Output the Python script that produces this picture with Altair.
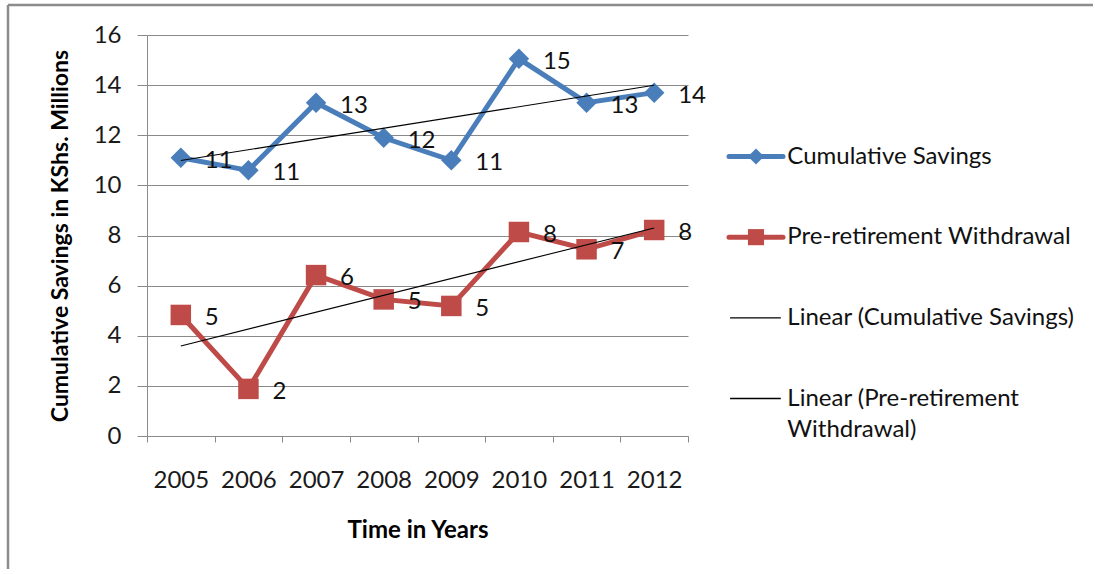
import altair as alt
import pandas as pd

# ---- data -------------------------------------------------------------
years = [2005, 2006, 2007, 2008, 2009, 2010, 2011, 2012]
cumulative_savings = [11.1, 10.6, 13.3, 11.9, 11.0, 15.05, 13.3, 13.7]
pre_retirement_withdrawal = [4.83, 1.88, 6.42, 5.45, 5.19, 8.14, 7.45, 8.22]

series_names = ["Cumulative Savings", "Pre-retirement Withdrawal"]
series_colors = ["#4A7EBB", "#BE4B48"]
series_shapes = ["diamond", "square"]

y_ticks = [0, 2, 4, 6, 8, 10, 12, 14, 16]

legend_lines = [
    "Cumulative Savings",
    "Pre-retirement Withdrawal",
    "Linear (Cumulative Savings)",
    "Linear (Pre-retirement",
    "Withdrawal)",
]

# ---- styling ------------------------------------------------------------
FONT = "Lato"
FS = 24
GRID = "#8a8a8a"
PLOT_W, PLOT_H = 541, 401
CAT_PX = PLOT_W / len(years)

df = pd.DataFrame(
    {
        "year": years * 2,
        "value": cumulative_savings + pre_retirement_withdrawal,
        "series": [series_names[0]] * len(years) + [series_names[1]] * len(years),
    }
)

# ticks sit on the category boundaries; each label is shifted half a
# category to the right so it lands in the middle of its year
x_bounds = [y - 0.5 for y in years] + [years[-1] + 0.5]

x_enc = alt.X(
    "year:Q",
    scale=alt.Scale(domain=[x_bounds[0], x_bounds[-1]], nice=False, zero=False),
    axis=alt.Axis(
        values=x_bounds,
        labelExpr=f"datum.value < {years[-1]} ? toString(datum.value + 0.5) : ''",
        labelOffset=CAT_PX / 2,
        labelOverlap=False,
        labelFlush=False,
        tickSize=6,
        tickColor=GRID,
        domainColor=GRID,
        grid=False,
        labelFont=FONT,
        labelFontSize=FS,
        labelColor="#1a1a1a",
        labelPadding=26,
        title="Time in Years",
        titleFont=FONT,
        titleFontSize=FS,
        titleFontWeight="bold",
        titleColor="#000000",
        titlePadding=26,
    ),
)
y_enc = alt.Y(
    "value:Q",
    scale=alt.Scale(domain=[0, 16], nice=False),
    axis=alt.Axis(
        values=y_ticks,
        tickSize=10,
        tickColor=GRID,
        domainColor=GRID,
        grid=True,
        gridColor=GRID,
        labelFont=FONT,
        labelFontSize=FS,
        labelColor="#1a1a1a",
        labelPadding=16,
        title="Cumulative Savings in KShs. Millions",
        titleFont=FONT,
        titleFontSize=23,
        titleFontWeight="bold",
        titleColor="#000000",
        titlePadding=21,
    ),
)

color_scale = alt.Scale(domain=series_names, range=series_colors)
shape_scale = alt.Scale(domain=series_names, range=series_shapes)

base = alt.Chart(df).encode(x=x_enc, y=y_enc)

lines = base.mark_line(strokeWidth=5).encode(
    color=alt.Color("series:N", scale=color_scale, legend=None)
)
markers = base.mark_point(filled=True, size=420, opacity=1).encode(
    color=alt.Color("series:N", scale=color_scale, legend=None),
    shape=alt.Shape("series:N", scale=shape_scale, legend=None),
)
trend = (
    base.transform_regression("year", "value", groupby=["series"])
    .mark_line(color="#000000", strokeWidth=1.1)
    .encode(detail="series:N")
)
value_labels = base.mark_text(
    align="left", baseline="middle", dx=24, dy=3, font=FONT, fontSize=FS, color="#111111"
).encode(text=alt.Text("value:Q", format=".0f"))

# outer frame (top and left edges)
frame_src = alt.Chart(pd.DataFrame({"f": [0]}))
frame_left = frame_src.mark_rule(color="#8c8c8c", strokeWidth=2.5).encode(
    x=alt.value(-139), y=alt.value(-30), y2=alt.value(534)
)
frame_top = frame_src.mark_rule(color="#8c8c8c", strokeWidth=2.5).encode(
    x=alt.value(-139), x2=alt.value(946), y=alt.value(-30)
)

main = alt.layer(frame_left, frame_top, lines, markers, trend, value_labels).properties(
    width=PLOT_W, height=PLOT_H
)

# ---- legend panel -------------------------------------------------------
ROW_PX = 80.67
FIRST_PX = 121.5
UNIT_PX = 54
LEG_W = 330
row_domain = [-FIRST_PX / ROW_PX, (PLOT_H - FIRST_PX) / ROW_PX]
leg_x = alt.Scale(domain=[0, LEG_W / UNIT_PX], nice=False, zero=False)
leg_y = alt.Scale(domain=row_domain, nice=False, zero=False, reverse=True)

swatch_df = pd.DataFrame(
    {
        "row": [0, 1, 2, 3],
        "x0": [0, 0, 0.02, 0.02],
        "x1": [1, 1, 0.96, 0.96],
        "kind": series_names + ["trend", "trend"],
    }
)
text_df = pd.DataFrame(
    {"row": [0, 1, 2, 3, 3 + 31 / ROW_PX], "label": legend_lines, "tx": [1.08] * 5}
)

leg_series = swatch_df[swatch_df["kind"] != "trend"]
leg_trend = swatch_df[swatch_df["kind"] == "trend"]

sw_lines = alt.Chart(leg_series).mark_rule(strokeWidth=5, strokeCap="round").encode(
    x=alt.X("x0:Q", scale=leg_x, axis=None),
    x2="x1:Q",
    y=alt.Y("row:Q", scale=leg_y, axis=None),
    color=alt.Color("kind:N", scale=color_scale, legend=None),
)
sw_marks = alt.Chart(leg_series).transform_calculate(mid="(datum.x0 + datum.x1) / 2").mark_point(
    filled=True, size=260, opacity=1
).encode(
    x=alt.X("mid:Q", scale=leg_x, axis=None),
    y=alt.Y("row:Q", scale=leg_y, axis=None),
    color=alt.Color("kind:N", scale=color_scale, legend=None),
    shape=alt.Shape("kind:N", scale=shape_scale, legend=None),
)
sw_trend = alt.Chart(leg_trend).mark_rule(strokeWidth=1.3, color="#000000").encode(
    x=alt.X("x0:Q", scale=leg_x, axis=None),
    x2="x1:Q",
    y=alt.Y("row:Q", scale=leg_y, axis=None),
)
leg_text = alt.Chart(text_df).mark_text(
    align="left", baseline="middle", font=FONT, fontSize=FS, color="#111111"
).encode(
    x=alt.X("tx:Q", scale=leg_x, axis=None),
    y=alt.Y("row:Q", scale=leg_y, axis=None),
    text="label:N",
)

legend_panel = alt.layer(sw_lines, sw_marks, sw_trend, leg_text).properties(
    width=LEG_W, height=PLOT_H
)

chart = (
    alt.hconcat(main, legend_panel, spacing=41, bounds="flush")
    .resolve_scale(color="independent", shape="independent", x="independent", y="independent")
    .properties(padding={"left": 6, "top": 3, "right": 0, "bottom": 0}, background="white")
    .configure_view(stroke=None)
)

chart.save("out.html", embed_options={"renderer": "svg", "actions": False})
